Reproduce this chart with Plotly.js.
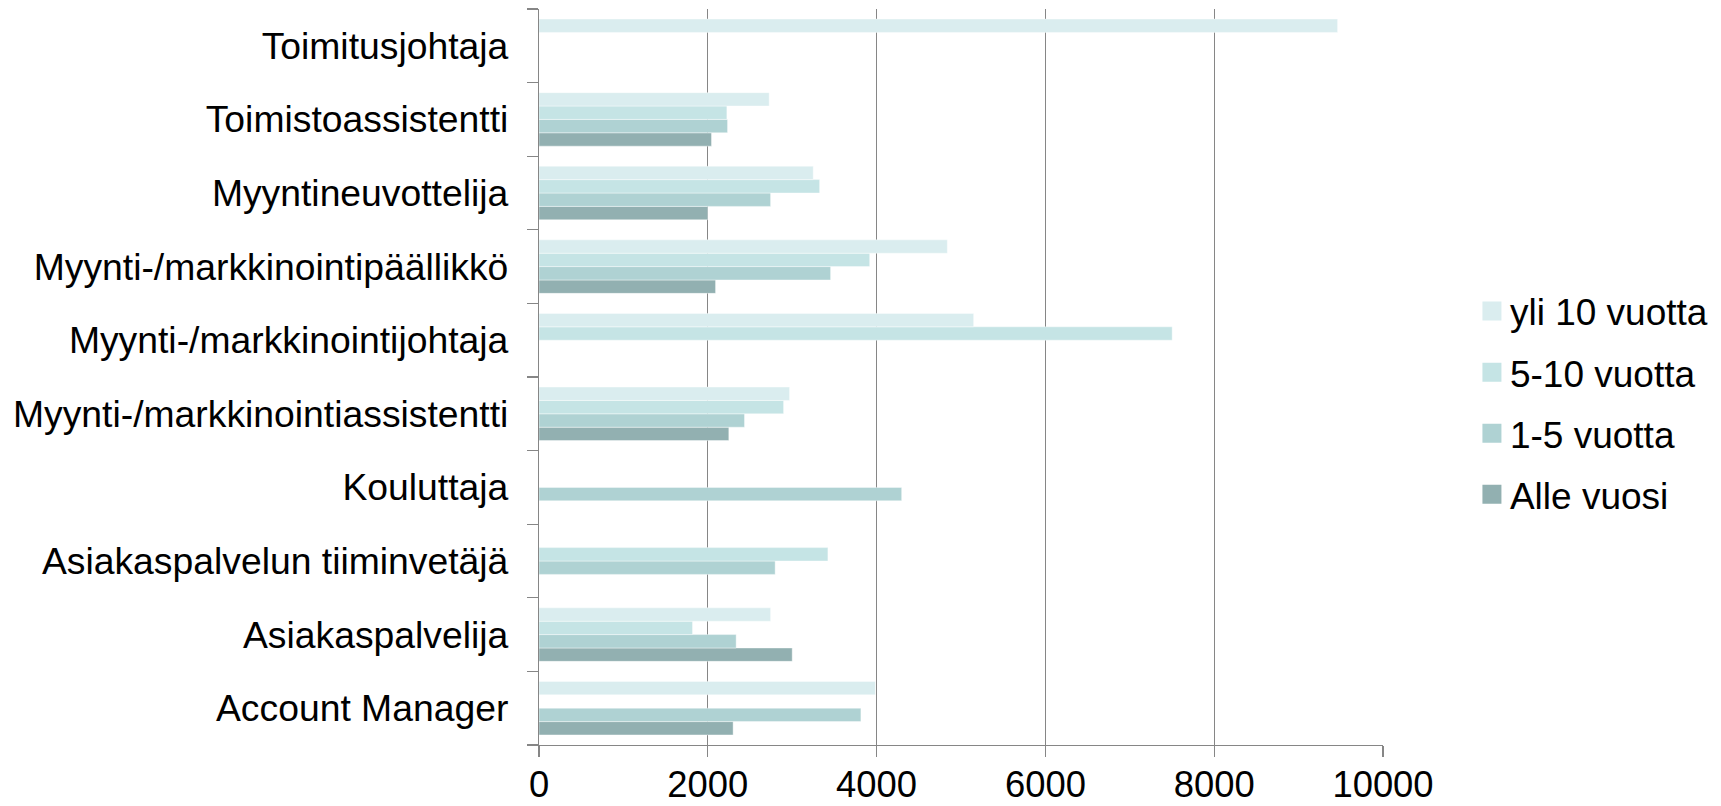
<!DOCTYPE html>
<html>
<head>
<meta charset="utf-8">
<script src="https://cdn.plot.ly/plotly-3.0.1.min.js"></script>
<style>html,body{margin:0;padding:0;background:#fff;}#chart{width:1721px;height:806px;}</style>
</head>
<body>
<div id="chart"></div>
<script>
var categories = ["Account Manager", "Asiakaspalvelija", "Asiakaspalvelun tiiminvetäjä", "Kouluttaja",
  "Myynti-/markkinointiassistentti", "Myynti-/markkinointijohtaja", "Myynti-/markkinointipäällikkö",
  "Myyntineuvottelija", "Toimistoassistentti", "Toimitusjohtaja"];
var alleVuosi  = [2300, 3000, null, null, 2249, null, 2092, 2000, 2044, null];
var vuotta1_5  = [3814, 2336, 2798, 4297, 2435, null, 3455, 2744, 2234, null];
var vuotta5_10 = [null, 1819, 3423, null, 2898, 7502, 3918, 3325, 2226, null];
var yli10      = [3985, 2744, null, null, 2969, 5150, 4838, 3249, 2727, 9462];
var seriesNames = ["Alle vuosi", "1-5 vuotta", "5-10 vuotta", "yli 10 vuotta"];
var seriesColors = ["#92B0B1", "#AFD2D3", "#C5E4E5", "#DAEDEF"];
var xTicks = [0, 2000, 4000, 6000, 8000, 10000];

var seriesValues = [alleVuosi, vuotta1_5, vuotta5_10, yli10];
var traces = seriesValues.map(function (vals, i) {
  return {
    type: "bar",
    orientation: "h",
    name: seriesNames[i],
    legendgroup: "g" + i,
    legendrank: 4 - i,
    y: categories,
    x: vals,
    marker: { color: seriesColors[i], line: { color: "rgba(255,255,255,0.5)", width: 0.8 } },
    hoverinfo: "x+y+name"
  };
});

var fontFam = "Liberation Sans, Arial, sans-serif";
var layout = {
  width: 1721,
  height: 806,
  paper_bgcolor: "#ffffff",
  plot_bgcolor: "#ffffff",
  barmode: "group",
  bargap: 0.273,
  bargroupgap: 0,
  font: { family: fontFam, size: 37, color: "#000000" },
  margin: { l: 539, r: 338, t: 9, b: 61, pad: 0, autoexpand: false },
  showlegend: true,
  legend: {
    x: 1.103, xanchor: "left",
    y: 0.4647, yanchor: "middle",
    traceorder: "grouped",
    tracegroupgap: 10,
    font: { family: fontFam, size: 37, color: "#000000" },
    bgcolor: "rgba(0,0,0,0)"
  },
  xaxis: {
    range: [0, 10000],
    tickvals: xTicks,
    ticktext: xTicks.map(String),
    showgrid: true,
    gridcolor: "#868686",
    gridwidth: 1.2,
    zeroline: false,
    showline: true,
    linecolor: "#868686",
    linewidth: 1.2,
    ticks: "outside",
    ticklen: 11,
    tickwidth: 1.2,
    tickcolor: "#868686",
    ticklabelstandoff: -4,
    tickfont: { family: fontFam, size: 36.4, color: "#000000" },
    fixedrange: true
  },
  yaxis: {
    type: "category",
    categoryorder: "array",
    categoryarray: categories,
    showgrid: false,
    zeroline: false,
    showline: true,
    linecolor: "#868686",
    linewidth: 1.2,
    ticks: "outside",
    tickson: "boundaries",
    ticklen: 11,
    tickwidth: 1.2,
    tickcolor: "#868686",
    ticklabelstandoff: 22,
    tickfont: { family: fontFam, size: 37.3, color: "#000000" },
    fixedrange: true
  }
};

Plotly.newPlot("chart", traces, layout, { displayModeBar: false, staticPlot: true }).then(function (gd) {
  // enlarge the legend swatches to match the reference's larger squares
  gd.querySelectorAll(".legend .legendpoints path").forEach(function (p) {
    p.setAttribute("d", "M11.5,9.5H-7.5V-9.5H11.5Z");
    p.style.strokeWidth = "0px";
  });
});
</script>
</body>
</html>
